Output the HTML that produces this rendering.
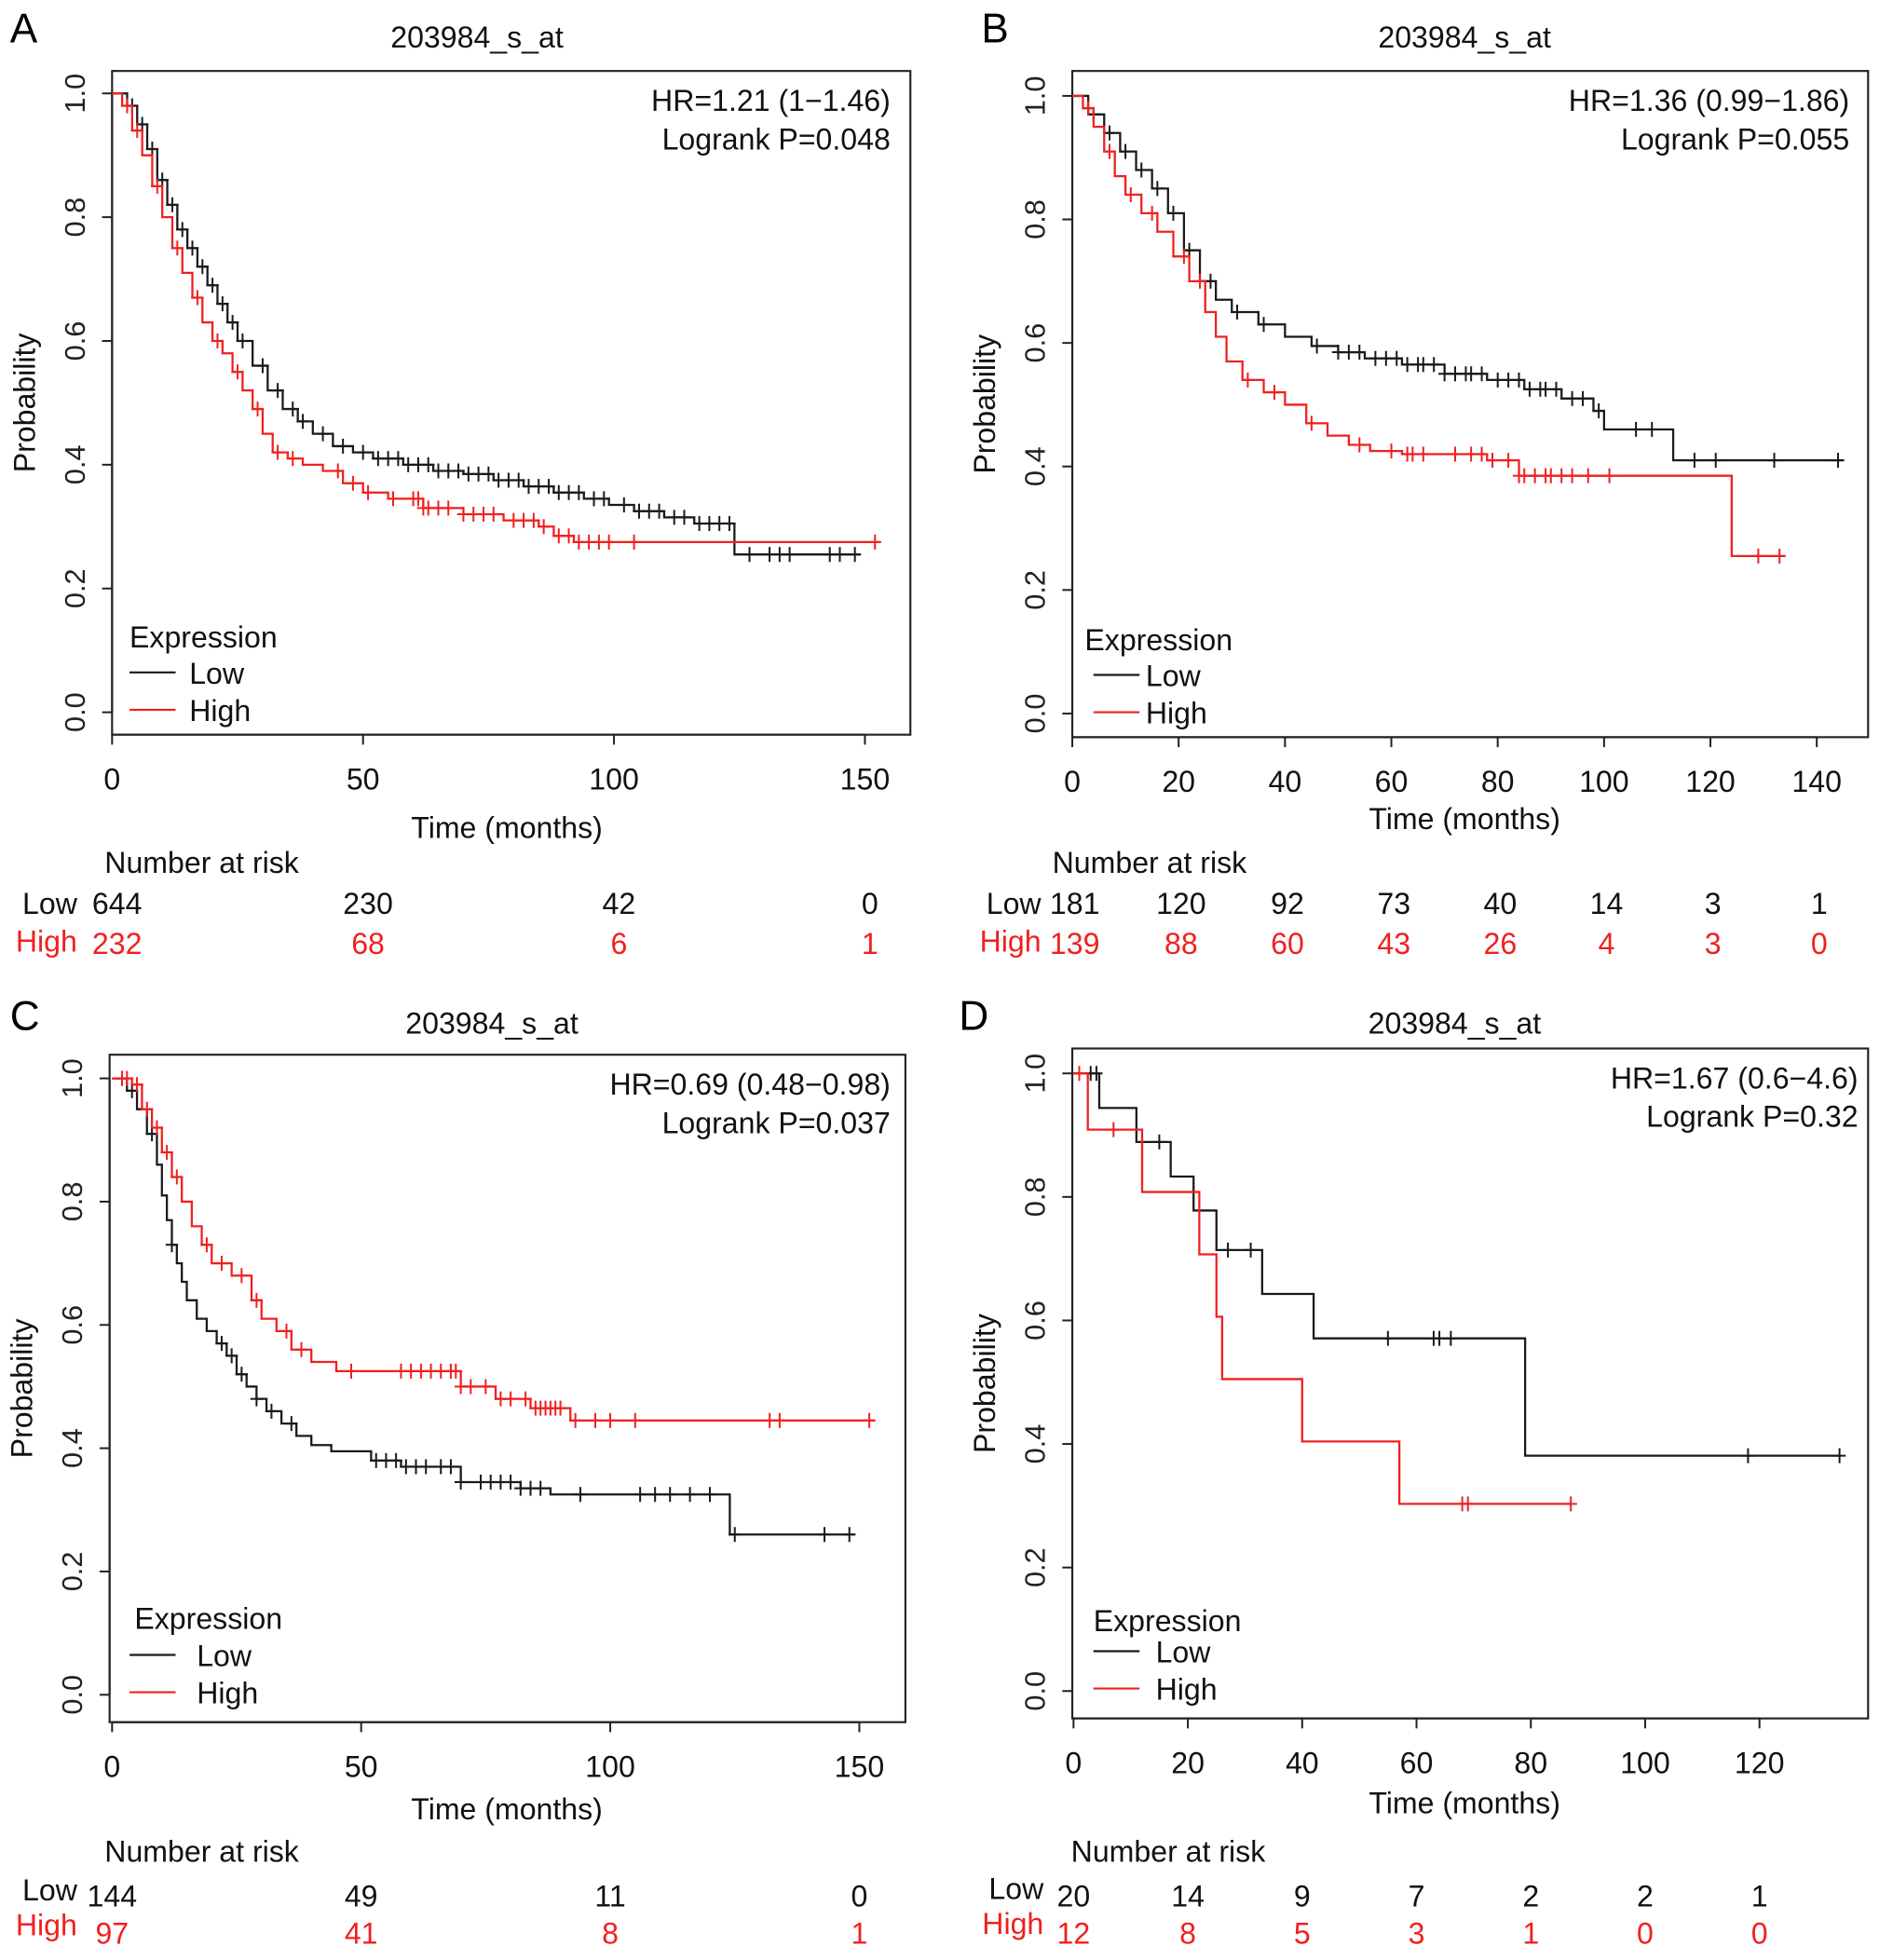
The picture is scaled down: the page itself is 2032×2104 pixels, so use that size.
<!DOCTYPE html>
<html><head><meta charset="utf-8">
<style>
html,body{margin:0;padding:0;background:#fff;}
svg{display:block;}
text{font-family:"Liberation Sans",Arial,sans-serif;}
</style></head>
<body>
<svg id="fig" width="2032" height="2104" viewBox="0 0 1520 1574" preserveAspectRatio="none" xmlns="http://www.w3.org/2000/svg"></svg>
<script>
// ---------- Panel A data ----------
const aXTicks = [0, 50, 100, 150];
const aYTicks = [0, 0.2, 0.4, 0.6, 0.8, 1.0];
const aLowTimes = [0,3,5,7,9,11,13,15,17,19,21,23,25,28,31,34,37,40,44,48,52,58,64,70,76,82,88,94,99,104,110,116,124];
const aLowSurv = [1,0.98,0.95,0.91,0.86,0.82,0.78,0.75,0.72,0.69,0.66,0.63,0.60,0.56,0.52,0.49,0.47,0.45,0.43,0.42,0.41,0.40,0.39,0.385,0.375,0.365,0.355,0.345,0.335,0.325,0.315,0.305,0.255];
const aLowEnd = 149;
const aLowCensor = [4,6,8,10,12,14,16,18,20,22,24,26,30,33,36,38,42,46,50,53,55,57,59,61,63,65,67,69,71,73,75,77,79,81,83,85,87,89,91,93,96,98,102,105,107,109,112,114,117,119,121,123,127,131,133,135,143,145,148];
const aHighTimes = [0,2,4,6,8,10,12,14,16,18,20,22,24,26,28,30,32,35,38,42,46,50,55,62,70,78,85,88,92];
const aHighSurv = [1,0.98,0.94,0.90,0.85,0.80,0.75,0.71,0.67,0.63,0.60,0.58,0.55,0.52,0.49,0.45,0.42,0.41,0.40,0.39,0.37,0.355,0.345,0.33,0.32,0.31,0.30,0.285,0.275];
const aHighEnd = 153;
const aHighCensor = [3,5,9,13,17,21,25,29,33,36,45,48,51,56,60,61,62,63,65,67,70,72,74,76,80,82,84,86,89,91,93,95,97,99,104,152];
const aRiskTimes = [0, 50, 100, 150];
const aRiskLow = [644, 230, 42, 0];
const aRiskHigh = [232, 68, 6, 1];

// ---------- Panel B data ----------
const bXTicks = [0,20,40,60,80,100,120,140];
const bYTicks = [0, 0.2, 0.4, 0.6, 0.8, 1.0];
const bLowTimes = [0,3,6,9,12,15,18,21,24,27,30,35,40,45,50,55,62,70,78,85,92,98,100,113];
const bLowSurv = [1,0.97,0.94,0.91,0.88,0.85,0.81,0.75,0.70,0.67,0.65,0.63,0.61,0.595,0.585,0.575,0.565,0.55,0.54,0.525,0.51,0.49,0.46,0.41];
const bLowEnd = 145;
const bLowCensor = [4,7,10,13,16,19,22,26,31,36,46,50,52,54,57,59,61,63,65,66,68,70,72,74,75,77,80,82,84,86,88,89,91,94,96,99,106,109,117,121,132,144];
const bHighTimes = [0,2,4,6,8,10,13,16,19,22,25,27,29,32,36,40,44,48,52,56,62,78,84,124];
const bHighSurv = [1,0.98,0.95,0.91,0.87,0.84,0.81,0.78,0.74,0.70,0.65,0.61,0.57,0.54,0.52,0.50,0.47,0.45,0.435,0.425,0.42,0.41,0.385,0.255];
const bHighEnd = 134;
const bHighCensor = [3,7,11,15,21,24,33,38,45,54,60,63,64,66,72,75,77,79,82,84,85,87,89,90,92,94,97,101,129,133];
const bRiskTimes = [0,20,40,60,80,100,120,140];
const bRiskLow = [181,120,92,73,40,14,3,1];
const bRiskHigh = [139,88,60,43,26,4,3,0];

// ---------- Panel C data ----------
const cXTicks = [0, 50, 100, 150];
const cYTicks = [0, 0.2, 0.4, 0.6, 0.8, 1.0];
const cLowTimes = [0,3,5,7,9,10,11,12,13,14,15,17,19,21,23,25,27,29,31,34,37,40,44,52,58,70,82,88,124];
const cLowSurv = [1,0.98,0.95,0.91,0.86,0.81,0.77,0.73,0.70,0.67,0.64,0.61,0.59,0.57,0.55,0.52,0.50,0.48,0.46,0.44,0.42,0.405,0.395,0.38,0.37,0.345,0.335,0.325,0.26];
const cLowEnd = 149;
const cLowCensor = [2,4,8,12,22,24,26,29,32,36,53,55,57,59,61,63,66,68,70,74,76,78,80,82,84,86,94,106,109,112,116,120,125,143,148];
const cHighTimes = [0,4,6,8,10,12,14,16,18,20,24,28,30,33,36,40,45,70,77,84,92];
const cHighSurv = [1,0.99,0.95,0.92,0.88,0.84,0.80,0.76,0.73,0.70,0.68,0.64,0.61,0.59,0.56,0.54,0.525,0.50,0.48,0.465,0.445];
const cHighEnd = 153;
const cHighCensor = [2,3,5,7,9,11,13,19,22,26,29,35,38,48,58,60,62,64,66,68,69,70,72,75,78,80,83,85,86,87,88,89,90,93,97,100,105,132,134,152];
const cRiskTimes = [0, 50, 100, 150];
const cRiskLow = [144, 49, 11, 0];
const cRiskHigh = [97, 41, 8, 1];

// ---------- Panel D data ----------
const dXTicks = [0,20,40,60,80,100,120];
const dYTicks = [0, 0.2, 0.4, 0.6, 0.8, 1.0];
const dLowTimes = [0,4.5,11,17,21,25,33,42,79];
const dLowSurv = [1,0.944,0.889,0.833,0.778,0.714,0.643,0.571,0.381];
const dLowEnd = 134;
const dLowCensor = [3,4,15,27,31,55,63,64,66,118,134];
const dHighTimes = [0,2.5,12,22,25,26,40,57];
const dHighSurv = [1,0.909,0.808,0.707,0.606,0.505,0.404,0.303];
const dHighEnd = 87;
const dHighCensor = [1,7,68,69,87];
const dRiskTimes = [0,20,40,60,80,100,120];
const dRiskLow = [20,14,9,7,2,2,1];
const dRiskHigh = [12,8,5,3,1,0,0];

const NS = "http://www.w3.org/2000/svg";
const svg = document.getElementById('fig');
const RED = "#f02020", BLK = "#1a1a1a";
const FS = 24;

function mk(tag, attrs, parent){
  const e = document.createElementNS(NS, tag);
  for (const k in attrs) e.setAttribute(k, attrs[k]);
  parent.appendChild(e);
  return e;
}
function txt(parent, x, y, s, size, anchor, fill, rot){
  const t = document.createElementNS(NS, 'text');
  t.setAttribute('x', x); t.setAttribute('y', y);
  t.setAttribute('font-size', size);
  t.setAttribute('text-anchor', anchor || 'start');
  t.setAttribute('fill', fill || '#111');
  if (rot) t.setAttribute('transform', 'rotate(' + rot + ' ' + x + ' ' + y + ')');
  t.textContent = s;
  parent.appendChild(t);
  return t;
}
function survAt(times, surv, t){
  let s = surv[0];
  for (let i = 0; i < times.length; i++) if (times[i] <= t) s = surv[i];
  return s;
}

function drawPanel(L, D){
  const g = mk('g', {}, svg);
  
  
  const sx = t => L.x0 + t * L.pxPer;
  const sy = p => L.y0 - p * L.yPx;

  const lt = txt(g, L.letterX, L.letterY, L.letter, 33, 'start', '#000');
  
  
  const tt = txt(g, L.titleX, L.titleY, '203984_s_at', FS, 'middle');
  
  

  const fr = mk('rect', {x: L.fx1, y: L.fy1, width: L.fx2 - L.fx1, height: L.fy2 - L.fy1, fill: 'none', stroke: '#222', 'stroke-width': 1.6}, g);
  
  

  const ya = mk('g', {}, g);
  
  
  mk('line', {x1: L.fx1, x2: L.fx1, y1: sy(D.yTicks[0]), y2: sy(D.yTicks[D.yTicks.length-1]), stroke: '#222', 'stroke-width': 1.5}, ya);
  D.yTicks.forEach(v => {
    mk('line', {x1: L.fx1 - 8, x2: L.fx1, y1: sy(v), y2: sy(v), stroke: '#222', 'stroke-width': 1.5}, ya);
    const t = txt(ya, L.fx1 - 22, sy(v), v.toFixed(1), 23, 'middle', '#222', -90);
    
    
  });
  const yt = txt(g, L.fx1 - 62, (L.fy1 + L.fy2) / 2, 'Probability', FS, 'middle', '#111', -90);
  
  

  const xa = mk('g', {}, g);
  
  
  mk('line', {x1: sx(D.xTicks[0]), x2: sx(D.xTicks[D.xTicks.length-1]), y1: L.fy2, y2: L.fy2, stroke: '#222', 'stroke-width': 1.5}, xa);
  D.xTicks.forEach(v => {
    mk('line', {x1: sx(v), x2: sx(v), y1: L.fy2, y2: L.fy2 + 8, stroke: '#222', 'stroke-width': 1.5}, xa);
    const t = txt(xa, sx(v), L.fy2 + 44, String(v), FS, 'middle');
    
    
  });
  const xt = txt(g, L.xTitleX, L.fy2 + L.xTitleDy, 'Time (months)', FS, 'middle');
  
  

  const h1 = txt(g, L.hrX, L.fy1 + 32, D.hr, FS, 'end');
  
  
  const h2 = txt(g, L.hrX, L.fy1 + 63, D.p, FS, 'end');
  
  

  [[D.low, BLK, 'low'], [D.high, RED, 'high']].forEach(([S, col, nm]) => {
    let d = 'M' + sx(S.times[0]) + ',' + sy(S.surv[0]);
    for (let i = 1; i < S.times.length; i++) {
      d += ' H' + sx(S.times[i]) + ' V' + sy(S.surv[i]);
    }
    d += ' H' + sx(S.end);
    const p = mk('path', {d: d, fill: 'none', stroke: col, 'stroke-width': 1.7}, g);
    
    
    const cg = mk('g', {stroke: col, 'stroke-width': 1.5}, g);
    
    
    S.censor.forEach(c => {
      const x = sx(c), y = sy(survAt(S.times, S.surv, c));
      mk('line', {x1: x, x2: x, y1: y - 6, y2: y + 6}, cg);
      mk('line', {x1: x - 5, x2: x + 5, y1: y, y2: y}, cg);
    });
  });

  const lg = mk('g', {}, g);
  
  
  txt(lg, L.legX, L.legY, 'Expression', FS, 'start');
  mk('line', {x1: L.legLineX, x2: L.legLineX + 37, y1: L.legY + L.legL1, y2: L.legY + L.legL1, stroke: BLK, 'stroke-width': 1.6}, lg);
  mk('line', {x1: L.legLineX, x2: L.legLineX + 37, y1: L.legY + L.legL1 + 30, y2: L.legY + L.legL1 + 30, stroke: RED, 'stroke-width': 1.6}, lg);
  const e1 = txt(lg, L.legTextX, L.legY + L.legL1 + 9, 'Low', FS, 'start');
  
  
  const e2 = txt(lg, L.legTextX, L.legY + L.legL1 + 39, 'High', FS, 'start');
  
  

  const rg = mk('g', {}, g);
  
  
  txt(rg, L.riskTitleX, L.riskY, 'Number at risk', FS, 'start');
  txt(rg, L.riskLabelX, L.riskY + L.riskLowDy, 'Low', FS, 'end', '#111');
  txt(rg, L.riskLabelX, L.riskY + L.riskHighDy, 'High', FS, 'end', RED);
  D.riskTimes.forEach((t, i) => {
    const a = txt(rg, sx(t) + L.riskShift, L.riskY + L.riskLowDy + L.numDy, String(D.riskLow[i]), FS, 'middle', '#111');
    
    
    const b = txt(rg, sx(t) + L.riskShift, L.riskY + L.riskHighDy + L.numDy + 2, String(D.riskHigh[i]), FS, 'middle', RED);
    
    
  });
}

drawPanel(
  {letter:'A', letterX:8, letterY:34, titleX:383, titleY:38, fx1:90, fx2:731, fy1:57, fy2:590, x0:90, pxPer:4.03, y0:572, yPx:497,
   xTitleX:407, xTitleDy:83, hrX:715, legX:104, legY:520, legL1:20, legLineX:104, legTextX:152,
   riskTitleX:84, riskY:701, riskLabelX:62, riskLowDy:33, riskHighDy:63, riskShift:4, numDy:0},
  {xTicks:aXTicks, yTicks:aYTicks, hr:'HR=1.21 (1\u22121.46)', p:'Logrank P=0.048',
   low:{times:aLowTimes, surv:aLowSurv, end:aLowEnd, censor:aLowCensor},
   high:{times:aHighTimes, surv:aHighSurv, end:aHighEnd, censor:aHighCensor},
   riskTimes:aRiskTimes, riskLow:aRiskLow, riskHigh:aRiskHigh});

drawPanel(
  {letter:'B', letterX:788, letterY:34, titleX:1176, titleY:38, fx1:861, fx2:1500, fy1:57, fy2:592, x0:861, pxPer:4.27, y0:573, yPx:496,
   xTitleX:1176, xTitleDy:74, hrX:1485, legX:871, legY:522, legL1:20, legLineX:878, legTextX:920,
   riskTitleX:845, riskY:701, riskLabelX:836, riskLowDy:33, riskHighDy:63, riskShift:2, numDy:0},
  {xTicks:bXTicks, yTicks:bYTicks, hr:'HR=1.36 (0.99\u22121.86)', p:'Logrank P=0.055',
   low:{times:bLowTimes, surv:bLowSurv, end:bLowEnd, censor:bLowCensor},
   high:{times:bHighTimes, surv:bHighSurv, end:bHighEnd, censor:bHighCensor},
   riskTimes:bRiskTimes, riskLow:bRiskLow, riskHigh:bRiskHigh});

drawPanel(
  {letter:'C', letterX:8, letterY:827, titleX:395, titleY:830, fx1:88, fx2:727, fy1:847, fy2:1383, x0:90, pxPer:4.0, y0:1361, yPx:495,
   xTitleX:407, xTitleDy:78, hrX:715, legX:108, legY:1308, legL1:21, legLineX:104, legTextX:158,
   riskTitleX:84, riskY:1495, riskLabelX:62, riskLowDy:31, riskHighDy:59, riskShift:0, numDy:5},
  {xTicks:cXTicks, yTicks:cYTicks, hr:'HR=0.69 (0.48\u22120.98)', p:'Logrank P=0.037',
   low:{times:cLowTimes, surv:cLowSurv, end:cLowEnd, censor:cLowCensor},
   high:{times:cHighTimes, surv:cHighSurv, end:cHighEnd, censor:cHighCensor},
   riskTimes:cRiskTimes, riskLow:cRiskLow, riskHigh:cRiskHigh});

drawPanel(
  {letter:'D', letterX:770, letterY:827, titleX:1168, titleY:830, fx1:861, fx2:1500, fy1:842, fy2:1380, x0:862, pxPer:4.59, y0:1358, yPx:496,
   xTitleX:1176, xTitleDy:76, hrX:1492, legX:878, legY:1310, legL1:16, legLineX:878, legTextX:928,
   riskTitleX:860, riskY:1495, riskLabelX:838, riskLowDy:30, riskHighDy:58, riskShift:0, numDy:6},
  {xTicks:dXTicks, yTicks:dYTicks, hr:'HR=1.67 (0.6\u22124.6)', p:'Logrank P=0.32',
   low:{times:dLowTimes, surv:dLowSurv, end:dLowEnd, censor:dLowCensor},
   high:{times:dHighTimes, surv:dHighSurv, end:dHighEnd, censor:dHighCensor},
   riskTimes:dRiskTimes, riskLow:dRiskLow, riskHigh:dRiskHigh});
</script>
</body></html>
